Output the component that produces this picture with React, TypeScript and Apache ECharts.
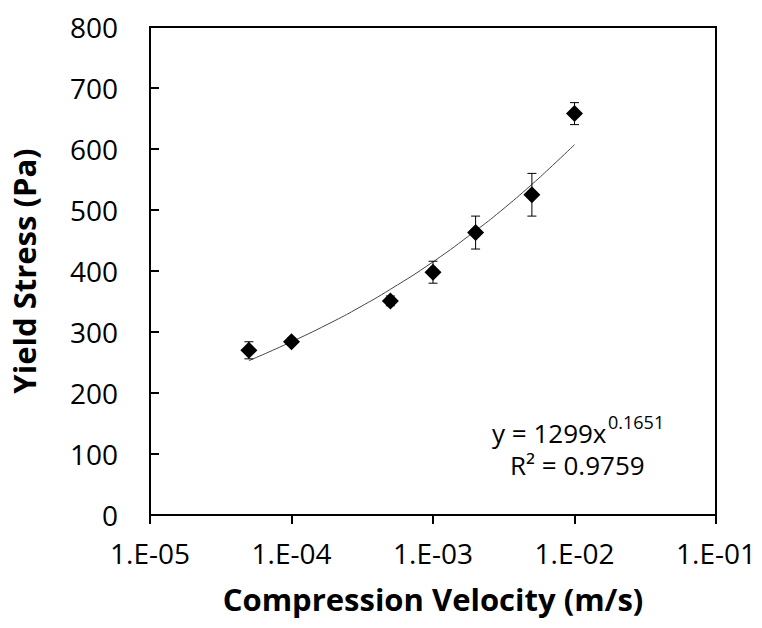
import React, { useEffect, useRef } from "react";
import * as echarts from "echarts";

const velocities = [5e-5, 1e-4, 5e-4, 1e-3, 2e-3, 5e-3, 1e-2];
const yieldStress = [270, 284, 351, 398, 463, 525, 658];
const errorBars = [14, 6, 8, 18, 27, 35, 18];

const trendX = [5e-5, 1e-4, 2e-4, 3e-4, 5e-4, 1e-3, 2e-3, 3e-3, 5e-3, 7e-3, 1e-2];
const trendY = [253, 284, 318, 340, 370, 415, 466, 498, 542, 573, 607];

const yTicks = [0, 100, 200, 300, 400, 500, 600, 700, 800];
const equationText = "y = 1299x";
const exponentText = "0.1651";
const r2Text = "R² = 0.9759";

const FONT = "'Open Sans', sans-serif";

function fmtLog(v: number): string {
  const e = Math.round(Math.log10(v));
  const a = Math.abs(e);
  return "1.E" + (e < 0 ? "-" : "+") + (a < 10 ? "0" + a : String(a));
}

export default function App() {
  const ref = useRef<HTMLDivElement>(null);
  useEffect(() => {
    if (!ref.current) return;
    const chart = echarts.init(ref.current, null, { renderer: "svg" });
    const option: any = {
      animation: false,
      backgroundColor: "#fff",
      grid: {
        left: 150,
        right: 46,
        top: 27,
        bottom: 113,
        outerBoundsMode: "none",
        containLabel: false,
        show: true,
        borderColor: "#000",
        borderWidth: 2,
        backgroundColor: "transparent",
      },
      xAxis: {
        type: "log",
        logBase: 10,
        min: 1e-5,
        max: 1e-1,
        name: "Compression Velocity (m/s)",
        nameLocation: "middle",
        nameGap: 68,
        nameTextStyle: { fontFamily: FONT, fontWeight: "bold", fontSize: 31, color: "#000" },
        axisLine: { lineStyle: { color: "#000", width: 2 } },
        axisTick: { show: true, inside: false, length: 9, lineStyle: { color: "#000", width: 2 } },
        minorTick: { show: false },
        splitLine: { show: false },
        axisLabel: {
          formatter: (v: number) => fmtLog(v),
          fontFamily: FONT,
          fontSize: 28,
          color: "#000",
          margin: 24,
          showMinLabel: true,
          showMaxLabel: true,
        },
      },
      yAxis: {
        type: "value",
        min: 0,
        max: 800,
        interval: 100,
        name: "Yield Stress (Pa)",
        nameLocation: "middle",
        nameGap: 111,
        nameTextStyle: { fontFamily: FONT, fontWeight: "bold", fontSize: 31, color: "#000" },
        axisLine: { lineStyle: { color: "#000", width: 2 } },
        axisTick: { show: true, inside: true, length: 9, lineStyle: { color: "#000", width: 2 } },
        splitLine: { show: false },
        axisLabel: {
          formatter: (v: number) => (yTicks.includes(v) ? String(v) : ""),
          fontFamily: FONT,
          fontSize: 28,
          color: "#000",
          margin: 32,
        },
      },
      series: [
        {
          type: "line",
          data: trendX.map((x, i) => [x, trendY[i]]),
          smooth: true,
          showSymbol: false,
          symbol: "none",
          lineStyle: { color: "#444", width: 1 },
          z: 2,
        },
        {
          type: "custom",
          data: velocities.map((x, i) => [x, yieldStress[i], errorBars[i]]),
          renderItem: (params: any, api: any) => {
            const x = api.value(0);
            const y = api.value(1);
            const e = api.value(2);
            const top = api.coord([x, y + e]);
            const bot = api.coord([x, y - e]);
            const hw = 4.5;
            const style = { stroke: "#000", lineWidth: 1 };
            return {
              type: "group",
              children: [
                { type: "line", shape: { x1: top[0], y1: top[1], x2: bot[0], y2: bot[1] }, style },
                { type: "line", shape: { x1: top[0] - hw, y1: top[1], x2: top[0] + hw, y2: top[1] }, style },
                { type: "line", shape: { x1: bot[0] - hw, y1: bot[1], x2: bot[0] + hw, y2: bot[1] }, style },
              ],
            };
          },
          z: 3,
        },
        {
          type: "scatter",
          data: velocities.map((x, i) => [x, yieldStress[i]]),
          symbol: "diamond",
          symbolSize: 17,
          itemStyle: { color: "#000", opacity: 1 },
          z: 4,
        },
      ],
      graphic: [
        {
          type: "text",
          left: 492,
          top: 419,
          style: { text: equationText, fontFamily: FONT, fontSize: 26, lineHeight: 28, fill: "#000" },
        },
        {
          type: "text",
          left: 608,
          top: 412,
          style: { text: exponentText, fontFamily: FONT, fontSize: 18, lineHeight: 20, fill: "#000" },
        },
        {
          type: "text",
          left: 510,
          top: 451,
          style: { text: r2Text, fontFamily: FONT, fontSize: 26, lineHeight: 28, fill: "#000" },
        },
      ],
    };
    chart.setOption(option);
    return () => chart.dispose();
  }, []);
  return (
    <div
      ref={ref}
      style={{ position: "absolute", left: 0, top: 0, width: 762, height: 628 }}
    />
  );
}
